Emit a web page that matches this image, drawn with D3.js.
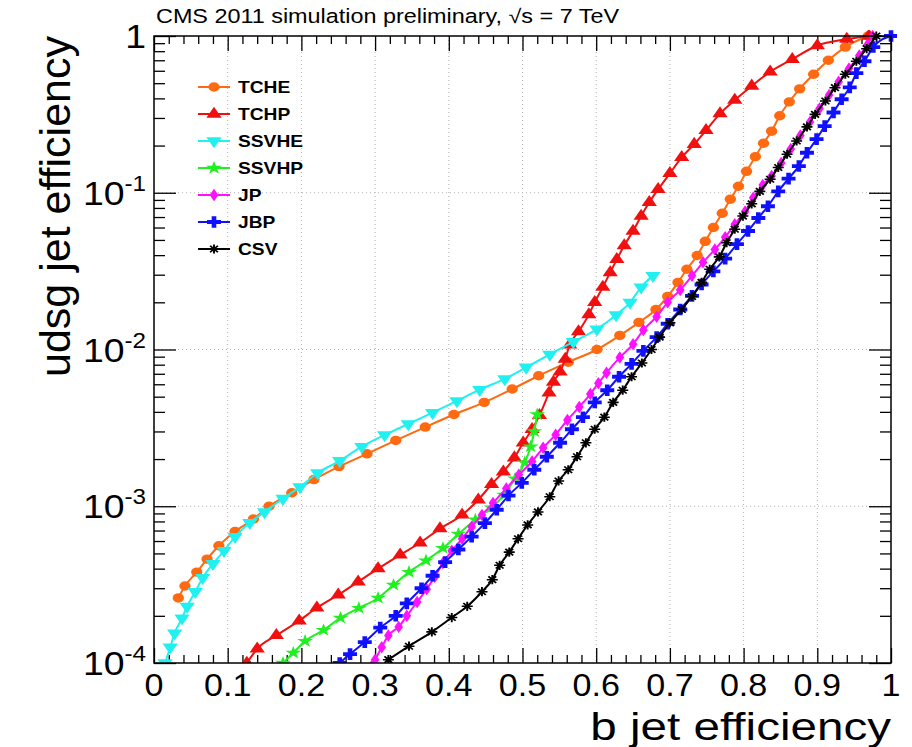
<!DOCTYPE html>
<html><head><meta charset="utf-8">
<script src="https://cdn.jsdelivr.net/npm/d3@7"></script>
<style>body{margin:0;background:#fff}svg{display:block}text{font-family:"Liberation Sans",Arial,Helvetica,sans-serif}</style>
</head><body><svg id="c" width="912" height="747"></svg>
<script>
// ---- data ----
const tcheX = [0.033,0.042,0.058,0.072,0.088,0.11,0.135,0.156,0.187,0.217,0.251,0.289,0.328,0.368,0.407,0.448,0.486,0.522,0.562,0.601,0.632,0.658,0.681,0.697,0.711,0.723,0.737,0.748,0.759,0.771,0.782,0.793,0.804,0.816,0.827,0.838,0.849,0.862,0.876,0.895,0.915,0.938,0.969];
const tcheY = [2.6e-4,3.1e-4,3.8e-4,4.6e-4,5.6e-4,6.9e-4,8.3e-4,1.0e-3,1.22e-3,1.48e-3,1.79e-3,2.16e-3,2.63e-3,3.2e-3,3.85e-3,4.6e-3,5.6e-3,6.8e-3,8.3e-3,1.0e-2,1.23e-2,1.49e-2,1.8e-2,2.18e-2,2.68e-2,3.25e-2,3.98e-2,4.9e-2,6.0e-2,7.4e-2,9.1e-2,0.11,0.137,0.17,0.207,0.247,0.31,0.38,0.46,0.57,0.70,0.85,1.0];
const tchpX = [0.126,0.14,0.166,0.197,0.221,0.25,0.277,0.304,0.334,0.361,0.388,0.418,0.44,0.458,0.474,0.489,0.501,0.513,0.523,0.536,0.542,0.551,0.558,0.564,0.576,0.59,0.598,0.609,0.619,0.628,0.638,0.65,0.661,0.672,0.684,0.70,0.716,0.733,0.749,0.768,0.788,0.811,0.836,0.866,0.90,0.94,0.97];
const tchpY = [1.0e-4,1.23e-4,1.5e-4,1.86e-4,2.25e-4,2.72e-4,3.3e-4,4.0e-4,4.9e-4,5.85e-4,7.2e-4,8.8e-4,1.1e-3,1.38e-3,1.66e-3,2.04e-3,2.54e-3,3.1e-3,3.8e-3,5.3e-3,6.2e-3,7.2e-3,8.7e-3,1.07e-2,1.3e-2,1.67e-2,2.0e-2,2.5e-2,3.1e-2,3.76e-2,4.6e-2,5.7e-2,7.1e-2,8.7e-2,0.105,0.133,0.168,0.204,0.25,0.32,0.39,0.48,0.59,0.71,0.87,0.955,1.0];
const ssvheX = [0.015,0.022,0.028,0.038,0.045,0.056,0.066,0.08,0.095,0.11,0.13,0.15,0.175,0.198,0.222,0.252,0.282,0.313,0.345,0.378,0.411,0.442,0.476,0.505,0.537,0.569,0.601,0.627,0.646,0.661,0.677];
const ssvheY = [1.0e-4,1.26e-4,1.55e-4,1.93e-4,2.3e-4,2.85e-4,3.5e-4,4.3e-4,5.2e-4,6.4e-4,7.85e-4,9.2e-4,1.12e-3,1.33e-3,1.63e-3,1.95e-3,2.4e-3,2.85e-3,3.35e-3,3.96e-3,4.7e-3,5.55e-3,6.5e-3,7.7e-3,9.3e-3,1.12e-2,1.35e-2,1.66e-2,2.0e-2,2.5e-2,2.96e-2];
const ssvhpX = [0.175,0.189,0.205,0.23,0.253,0.278,0.304,0.325,0.346,0.369,0.392,0.413,0.436,0.458,0.475,0.49,0.503,0.511,0.516,0.52];
const ssvhpY = [1.0e-4,1.16e-4,1.38e-4,1.62e-4,1.94e-4,2.24e-4,2.6e-4,3.15e-4,3.8e-4,4.5e-4,5.4e-4,6.65e-4,8.2e-4,9.8e-4,1.18e-3,1.5e-3,1.9e-3,2.4e-3,3.0e-3,3.85e-3];
const jpX = [0.295,0.3,0.309,0.318,0.332,0.343,0.357,0.37,0.381,0.392,0.404,0.418,0.431,0.445,0.46,0.478,0.495,0.513,0.528,0.545,0.561,0.577,0.592,0.603,0.614,0.632,0.65,0.664,0.682,0.697,0.714,0.73,0.745,0.761,0.775,0.788,0.802,0.813,0.826,0.838,0.851,0.864,0.877,0.89,0.903,0.916,0.929,0.943,0.957,0.968,0.975];
const jpY = [0.95e-4,1.05e-4,1.26e-4,1.5e-4,1.7e-4,2.0e-4,2.45e-4,2.96e-4,3.55e-4,4.35e-4,5.2e-4,6.2e-4,7.4e-4,8.8e-4,1.05e-3,1.3e-3,1.59e-3,1.93e-3,2.36e-3,2.86e-3,3.55e-3,4.3e-3,5.2e-3,6.1e-3,7.1e-3,8.9e-3,1.08e-2,1.33e-2,1.62e-2,2.0e-2,2.4e-2,2.95e-2,3.6e-2,4.35e-2,5.2e-2,6.3e-2,7.6e-2,9.3e-2,0.112,0.128,0.155,0.19,0.232,0.283,0.345,0.42,0.51,0.62,0.75,0.88,1.0];
const jbpX = [0.252,0.266,0.286,0.307,0.328,0.343,0.363,0.378,0.395,0.413,0.431,0.449,0.465,0.481,0.499,0.516,0.533,0.551,0.567,0.582,0.598,0.615,0.631,0.648,0.664,0.682,0.697,0.714,0.73,0.743,0.759,0.775,0.791,0.806,0.82,0.833,0.847,0.861,0.875,0.886,0.899,0.91,0.922,0.933,0.944,0.953,0.964,0.976,1.0];
const jbpY = [1.0e-4,1.14e-4,1.36e-4,1.68e-4,2.0e-4,2.4e-4,3.0e-4,3.6e-4,4.4e-4,5.3e-4,6.4e-4,7.8e-4,9.5e-4,1.17e-3,1.41e-3,1.71e-3,2.07e-3,2.54e-3,3.1e-3,3.7e-3,4.6e-3,5.5e-3,6.7e-3,8.1e-3,9.8e-3,1.2e-2,1.46e-2,1.8e-2,2.2e-2,2.6e-2,3.15e-2,3.8e-2,4.7e-2,5.7e-2,6.9e-2,8.2e-2,0.102,0.123,0.148,0.18,0.22,0.266,0.325,0.395,0.47,0.58,0.69,0.85,1.0];
const csvX = [0.318,0.346,0.377,0.404,0.425,0.445,0.459,0.469,0.482,0.494,0.507,0.521,0.537,0.549,0.562,0.574,0.586,0.598,0.611,0.623,0.636,0.648,0.662,0.675,0.686,0.70,0.716,0.73,0.743,0.754,0.767,0.777,0.788,0.799,0.811,0.822,0.836,0.847,0.859,0.872,0.886,0.897,0.911,0.924,0.938,0.953,0.967,0.98];
const csvY = [1.05e-4,1.28e-4,1.58e-4,1.95e-4,2.3e-4,2.85e-4,3.4e-4,4.2e-4,5.1e-4,6.2e-4,7.6e-4,9.2e-4,1.15e-3,1.45e-3,1.71e-3,2.07e-3,2.54e-3,3.1e-3,3.7e-3,4.6e-3,5.5e-3,6.7e-3,8.2e-3,1.0e-2,1.2e-2,1.48e-2,1.8e-2,2.18e-2,2.68e-2,3.25e-2,3.9e-2,4.8e-2,5.85e-2,7.1e-2,8.5e-2,0.102,0.122,0.145,0.176,0.214,0.263,0.316,0.385,0.468,0.57,0.69,0.83,1.0];

const seriesNames = ["TCHE","TCHP","SSVHE","SSVHP","JP","JBP","CSV"];
const seriesX = [tcheX,tchpX,ssvheX,ssvhpX,jpX,jbpX,csvX];
const seriesY = [tcheY,tchpY,ssvheY,ssvhpY,jpY,jbpY,csvY];
const seriesColors = ["#ff6a10","#f01010","#20f0f0","#20f020","#ff10ff","#1010ff","#000000"];
const seriesMarkers = ["circle","triangle","triangleDown","star","diamond","cross","asterisk"];

const xTickValues = [0,0.1,0.2,0.3,0.4,0.5,0.6,0.7,0.8,0.9,1];
const xTickLabels = ["0","0.1","0.2","0.3","0.4","0.5","0.6","0.7","0.8","0.9","1"];
const yTickValues = [1,1e-1,1e-2,1e-3,1e-4];
const yTickBases = ["1","10","10","10","10"];
const yTickExps = ["","-1","-2","-3","-4"];

// ---- layout ----
const SX = 1.2; // horizontal stretch of the original picture
const L = 154, R = 891, T = 36, B = 663;
const svg = d3.select("#c");
const x = d3.scaleLinear().domain([0,1]).range([L,R]);
const y = d3.scaleLog().domain([1e-4,1]).range([B,T]);

// grid
const grid = svg.append("g").attr("stroke","#b0b0b0").attr("stroke-width",1).attr("stroke-dasharray","1,3");
grid.selectAll("line.gx").data(xTickValues.slice(1,-1)).join("line")
  .attr("x1",d=>x(d)).attr("x2",d=>x(d)).attr("y1",T).attr("y2",B);
grid.selectAll("line.gy").data(yTickValues.slice(1,-1)).join("line")
  .attr("y1",d=>y(d)).attr("y2",d=>y(d)).attr("x1",L).attr("x2",R);

// axes ticks
const minorX = d3.range(0,1.0001,0.02).filter(v=>Math.abs(v*10-Math.round(v*10))>1e-6);
const minorY = [];
for (let e=-4;e<0;e++) for (let m=2;m<10;m++) minorY.push(m*Math.pow(10,e));
function styleAxis(g){ g.select(".domain").remove(); g.selectAll("line").attr("stroke","#000").attr("stroke-width",1.3); g.selectAll("text").remove(); }
svg.append("g").attr("transform",`translate(0,${B})`).call(d3.axisBottom(x).tickValues(xTickValues).tickSize(-15).tickFormat("")).call(styleAxis);
svg.append("g").attr("transform",`translate(0,${B})`).call(d3.axisBottom(x).tickValues(minorX).tickSize(-8).tickFormat("")).call(styleAxis);
svg.append("g").attr("transform",`translate(0,${T})`).call(d3.axisTop(x).tickValues(xTickValues).tickSize(-15).tickFormat("")).call(styleAxis);
svg.append("g").attr("transform",`translate(0,${T})`).call(d3.axisTop(x).tickValues(minorX).tickSize(-8).tickFormat("")).call(styleAxis);
svg.append("g").attr("transform",`translate(${L},0)`).call(d3.axisLeft(y).tickValues(yTickValues).tickSize(-22).tickFormat("")).call(styleAxis);
svg.append("g").attr("transform",`translate(${L},0)`).call(d3.axisLeft(y).tickValues(minorY).tickSize(-11).tickFormat("")).call(styleAxis);
svg.append("g").attr("transform",`translate(${R},0)`).call(d3.axisRight(y).tickValues(yTickValues).tickSize(-22).tickFormat("")).call(styleAxis);
svg.append("g").attr("transform",`translate(${R},0)`).call(d3.axisRight(y).tickValues(minorY).tickSize(-11).tickFormat("")).call(styleAxis);

// markers
function markerPath(type){
  switch(type){
    case "circle": return d3.symbol(d3.symbolCircle,70)();
    case "triangle": return d3.symbol(d3.symbolTriangle,70)();
    case "triangleDown": return d3.symbol(d3.symbolTriangle,70)();
    case "star": return d3.symbol(d3.symbolStar,55)();
    case "diamond": return d3.symbol(d3.symbolDiamond,45)();
    case "cross": return d3.symbol(d3.symbolCross,75)();
    case "asterisk": { const r=4.6, a=r*0.7071; return `M${-r},0L${r},0M0,${-r}L0,${r}M${-a},${-a}L${a},${a}M${-a},${a}L${a},${-a}`; }
  }
}
function drawMarker(g, type, color, px, py){
  const rot = type==="triangleDown" ? " rotate(180)" : "";
  const p = g.append("path").attr("d",markerPath(type))
    .attr("transform",`translate(${px},${py}) scale(${SX},1)${rot}`);
  if (type==="asterisk") p.attr("fill","none").attr("stroke",color).attr("stroke-width",1.6);
  else p.attr("fill",color);
}

svg.append("defs").append("clipPath").attr("id","clip").append("rect")
  .attr("x",L).attr("y",T-6).attr("width",R-L+6).attr("height",B-T+6);
const plot = svg.append("g").attr("clip-path","url(#clip)");
const line = d3.line().x(d=>x(d[0])).y(d=>y(d[1])).curve(d3.curveMonotoneX);
seriesNames.forEach((name,i)=>{
  const pts = seriesX[i].map((v,j)=>[v,seriesY[i][j]]);
  const g = plot.append("g");
  g.append("path").attr("d",line(pts)).attr("fill","none").attr("stroke",seriesColors[i]).attr("stroke-width",2);
  pts.forEach(p=>drawMarker(g,seriesMarkers[i],seriesColors[i],x(p[0]),y(p[1])));
});

// frame
svg.append("rect").attr("x",L).attr("y",T).attr("width",R-L).attr("height",B-T)
  .attr("fill","none").attr("stroke","#000").attr("stroke-width",1.5);

// tick labels
function stretchedText(px,py,anchor,size,sx){
  return svg.append("text").attr("transform",`translate(${px},${py}) scale(${sx||SX},1)`)
    .attr("text-anchor",anchor).attr("font-size",size).attr("fill","#000");
}
xTickValues.forEach((v,i)=>{ stretchedText(x(v),696,"middle",31,1.1).text(xTickLabels[i]); });
yTickValues.forEach((v,i)=>{
  const t = stretchedText(146,y(v)+12,"end",34,1.1);
  t.append("tspan").text(yTickBases[i]);
  if (yTickExps[i]) t.append("tspan").attr("font-size",22).attr("dy",-14).text(yTickExps[i]);
});

// titles
stretchedText(R,740,"end",39,1.22).text("b jet efficiency");
svg.append("text").attr("transform",`translate(70,${T}) scale(1.0,1) rotate(-90)`)
  .attr("text-anchor","end").attr("font-size",43).text("udsg jet efficiency");
stretchedText(156,23,"start",19.5).text("CMS 2011 simulation preliminary, \u221As = 7 TeV");

// legend
const legY0 = 87, legDY = 27;
seriesNames.forEach((name,i)=>{
  const ly = legY0 + i*legDY;
  svg.append("line").attr("x1",198).attr("x2",230).attr("y1",ly).attr("y2",ly)
    .attr("stroke",seriesColors[i]).attr("stroke-width",2);
  drawMarker(svg,seriesMarkers[i],seriesColors[i],214,ly);
  stretchedText(238,ly+6,"start",16).attr("font-weight","bold").text(name);
});
</script></body></html>
